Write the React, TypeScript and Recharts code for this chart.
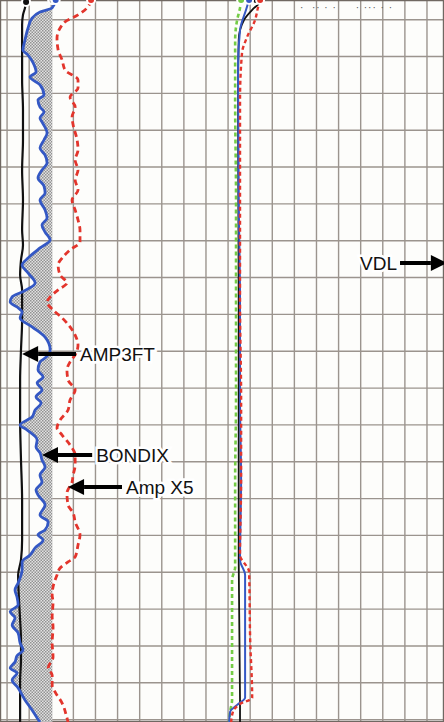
import React from "react";
import {
  ComposedChart,
  Line,
  Area,
  XAxis,
  YAxis,
  CartesianGrid,
  ReferenceLine
} from "recharts";

// grid (in chart divisions)
const gridX = Array.from({ length: 20 }, (_, i) => i);
const majorX = [0, 10, 15];
const gridY = Array.from({ length: 40 }, (_, i) => i);
const majorY = [2, 7, 12, 17, 22, 27, 32, 37];

// Track 1 - AMP3FT (black)
const amp3ftDepth = [0.04, 0.36, 0.74, 1.29, 2.64, 4.27, 5.9, 7.53, 9.16, 10.79, 12.42, 13.23, 14.05, 14.86, 15.67, 17.3, 18.93, 20.56, 22.73, 24.9, 27.08, 29.25, 30.33, 31.15, 32.5, 33.59, 34.67, 35.76, 36.85, 37.93, 39.13];
const amp3ft = [0.86, 0.81, 0.72, 0.68, 0.68, 0.68, 0.72, 0.72, 0.68, 0.72, 0.68, 0.72, 0.63, 0.59, 0.68, 0.68, 0.63, 0.59, 0.59, 0.63, 0.68, 0.68, 0.63, 0.5, 0.54, 0.59, 0.63, 0.63, 0.59, 0.59, 0.59];

// Track 1 - BONDIX (blue)
const bondixDepth = [-0.07, 0.36, 0.58, 0.91, 1.45, 2.1, 2.64, 2.92, 3.35, 3.84, 4.11, 4.54, 5.09, 5.36, 5.74, 6.01, 6.34, 6.55, 7.15, 7.53, 7.97, 8.35, 8.78, 9.16, 9.59, 10.03, 10.41, 10.79, 11.33, 11.77, 12.15, 12.53, 12.96, 13.39, 13.94, 14.32, 14.75, 15.29, 15.78, 16.05, 16.33, 16.6, 16.87, 17.19, 17.68, 18.23, 18.93, 19.37, 19.58, 20.02, 20.4, 20.72, 21.1, 21.48, 21.81, 22.19, 22.57, 23.0, 23.27, 23.82, 24.2, 24.52, 24.9, 25.28, 25.72, 26.1, 26.53, 26.8, 27.35, 27.89, 28.27, 28.7, 28.97, 29.25, 29.68, 30.06, 30.44, 30.87, 31.58, 31.96, 32.34, 32.77, 33.15, 33.48, 33.86, 34.3, 34.84, 35.22, 35.54, 35.87, 36.2, 36.47, 36.85, 37.28, 37.93, 38.48, 38.91, 39.13];
const bondix = [2.2, 2.04, 1.49, 1.13, 0.95, 0.81, 0.72, 0.95, 1.18, 1.31, 1.04, 1.49, 1.67, 1.4, 1.49, 1.67, 1.49, 1.58, 1.81, 1.67, 1.49, 1.72, 1.81, 1.58, 1.4, 1.67, 1.72, 1.49, 1.72, 1.81, 1.58, 1.72, 1.95, 1.49, 0.95, 0.68, 0.95, 1.27, 0.68, 0.23, 0.14, 0.45, 0.68, 0.59, 1.13, 1.72, 1.95, 1.72, 1.49, 1.4, 1.63, 1.36, 1.58, 1.31, 1.54, 1.27, 1.13, 0.59, 0.9, 1.36, 1.31, 1.49, 1.58, 1.72, 1.49, 1.58, 1.31, 1.4, 1.72, 1.49, 1.86, 1.72, 1.4, 1.63, 1.27, 1.04, 0.68, 0.68, 0.5, 0.36, 0.45, 0.5, 0.14, 0.36, 0.23, 0.5, 0.59, 0.72, 0.45, 0.36, 0.14, 0.45, 0.23, 0.5, 0.81, 1.13, 1.36, 1.49];
const SHADE_EDGE = 2.05;

// Track 1 - Amp X5 (red dashed)
const ampX5Depth = [-0.07, 0.36, 0.74, 1.12, 1.45, 1.99, 2.64, 3.19, 3.73, 4.27, 4.71, 5.2, 5.74, 6.28, 6.72, 7.53, 8.07, 8.62, 9.16, 9.7, 10.25, 10.79, 11.33, 11.87, 12.42, 13.07, 13.5, 13.94, 14.32, 14.86, 15.29, 15.67, 16.05, 16.33, 16.76, 17.19, 17.68, 18.12, 18.66, 19.2, 19.58, 20.02, 20.56, 21.1, 21.65, 22.19, 22.73, 23.17, 23.55, 24.09, 24.63, 25.17, 25.72, 26.1, 26.7, 27.35, 27.78, 28.27, 28.97, 29.52, 30.17, 30.44, 30.77, 31.15, 31.8, 32.23, 32.61, 33.43, 33.97, 34.84, 35.6, 36.2, 36.58, 37.12, 37.5, 38.1, 38.91, 39.13];
const ampX5 = [3.8, 3.62, 3.21, 2.62, 2.4, 2.26, 2.31, 2.49, 2.62, 3.21, 3.21, 2.85, 3.08, 2.94, 2.99, 3.17, 3.21, 3.08, 3.21, 3.08, 3.21, 2.94, 3.08, 3.21, 3.3, 3.3, 2.85, 2.49, 2.31, 2.4, 2.71, 2.31, 1.95, 1.81, 2.08, 2.49, 2.85, 3.08, 3.21, 3.08, 2.85, 2.71, 2.76, 3.08, 2.85, 2.76, 2.4, 2.26, 2.49, 2.85, 3.08, 3.08, 2.99, 2.94, 2.71, 2.76, 2.99, 3.08, 3.3, 3.21, 3.08, 2.76, 2.4, 2.26, 2.08, 2.04, 2.08, 2.04, 2.08, 2.04, 2.08, 1.86, 2.04, 2.04, 2.17, 2.49, 2.71, 2.76];

// Track 2 curves
const greenDepth = [-0.07, 0.36, 1.02, 2.1, 5.36, 10.79, 16.22, 21.65, 25.99, 30.71, 31.42, 37.93, 38.58, 39.13];
const green = [10.59, 10.54, 10.41, 10.32, 10.32, 10.36, 10.36, 10.36, 10.32, 10.32, 10.18, 10.18, 10.09, 10.05];
const blue2Depth = [-0.07, 0.47, 1.56, 3.57, 10.79, 16.22, 21.65, 25.99, 30.33, 31.15, 35.22, 37.82, 38.2, 38.58, 39.13];
const blue2 = [10.95, 10.81, 10.54, 10.45, 10.48, 10.54, 10.54, 10.59, 10.54, 10.77, 10.77, 10.77, 10.41, 10.09, 10.05];
const red2Depth = [-0.07, 0.31, 1.02, 1.94, 2.81, 5.36, 10.79, 16.22, 21.65, 25.99, 30.06, 30.98, 34.67, 37.82, 38.15, 38.58, 39.13];
const red2 = [11.45, 11.36, 11.22, 10.86, 10.63, 10.54, 10.54, 10.54, 10.59, 10.59, 10.54, 10.95, 11.0, 11.09, 10.54, 10.22, 10.14];
const black2Depth = [-0.07, 0.09, 0.36, 1.02, 2.1, 5.36, 16.22, 27.08, 30.33, 37.93, 39.13];
const black2 = [11.27, 11.4, 11.18, 10.72, 10.48, 10.45, 10.48, 10.48, 10.48, 10.54, 10.54];

// annotations: label, depth, tail value, tip value
const arrows = [
  { label: "AMP3FT", depth: 19.15, tail: 3.12, tip: 0.68 },
  { label: "BONDIX", depth: 24.63, tail: 3.85, tip: 1.58 },
  { label: "Amp X5", depth: 26.37, tail: 5.2, tip: 2.76 },
  { label: "VDL", depth: 14.21, tail: 17.78, tip: 19.9 }
];

const zip = (d: number[], v: number[]) => d.map((depth, i) => ({ depth, value: v[i] }));

const FONT = "'Liberation Sans', Arial, sans-serif";

const arrowShape = (label: string) => (props: any) => {
  const { x1, y1, x2 } = props;
  const dir = x2 < x1 ? -1 : 1;
  const head = 16;
  const baseX = x2 - dir * head;
  return (
    <g>
      <line x1={x1} y1={y1} x2={baseX} y2={y1} stroke="#000" strokeWidth={4} />
      <polygon points={`${x2},${y1} ${baseX},${y1 - 8} ${baseX},${y1 + 8}`} fill="#000" />
      <text
        x={dir < 0 ? x1 + 4 : x1 - 3}
        y={y1 + 7}
        textAnchor={dir < 0 ? "start" : "end"}
        fontFamily={FONT}
        fontSize={19}
        fill="#111"
        stroke="#fff"
        strokeWidth={5}
        paintOrder="stroke"
      >
        {label}
      </text>
    </g>
  );
};

const App: React.FC = () => {
  return (
    <div style={{ position: "absolute", left: 0, top: 0, width: 444, height: 722, background: "#fdfdfb" }}>
      <ComposedChart
        width={444}
        height={722}
        layout="vertical"
        margin={{ top: 0, right: 0, bottom: 0, left: 0 }}
      >
        <defs>
          <pattern id="chk" width="3" height="3" patternUnits="userSpaceOnUse">
            <rect width="3" height="3" fill="#e2e2e2" />
            <rect width="1.5" height="1.5" fill="#929292" />
            <rect x="1.5" y="1.5" width="1.5" height="1.5" fill="#929292" />
          </pattern>
        </defs>
        <XAxis xAxisId={0} type="number" domain={[-0.32, 19.77]} ticks={gridX} hide allowDataOverflow />
        <XAxis xAxisId="maj" type="number" domain={[-0.32, 19.77]} ticks={majorX} hide />
        <YAxis yAxisId={0} type="number" dataKey="depth" domain={[-0.07, 39.13]} ticks={gridY} hide allowDataOverflow />
        <YAxis yAxisId="maj" type="number" dataKey="depth" domain={[-0.07, 39.13]} ticks={majorY} hide />
        <CartesianGrid stroke="#9b948e" strokeWidth={1.4} />
        <CartesianGrid xAxisId="maj" yAxisId="maj" stroke="#706862" strokeWidth={2.4} />

        <Area
          data={bondixDepth.map((depth, i) => ({ depth, range: [Math.min(bondix[i], SHADE_EDGE), SHADE_EDGE] }))}
          dataKey="range"
          type="monotone"
          fill="url(#chk)"
          fillOpacity={1}
          stroke="none"
          isAnimationActive={false}
        />
        <Line data={zip(amp3ftDepth, amp3ft)} dataKey="value" type="monotone" stroke="#111" strokeWidth={2.2} dot={false} isAnimationActive={false} />
        <Line data={zip(ampX5Depth, ampX5)} dataKey="value" type="monotone" stroke="#e3352c" strokeWidth={2.8} strokeDasharray="6 4" dot={false} isAnimationActive={false} />
        <Line data={zip(bondixDepth, bondix)} dataKey="value" type="monotone" stroke="#3458c4" strokeWidth={2.8} dot={false} isAnimationActive={false} />

        <Line data={zip(black2Depth, black2)} dataKey="value" type="monotone" stroke="#111" strokeWidth={1.8} dot={false} isAnimationActive={false} />
        <Line data={zip(greenDepth, green)} dataKey="value" type="monotone" stroke="#74cc45" strokeWidth={2.6} strokeDasharray="4 3" dot={false} isAnimationActive={false} />
        <Line data={zip(blue2Depth, blue2)} dataKey="value" type="monotone" stroke="#3458c4" strokeWidth={2} dot={false} isAnimationActive={false} />
        <Line data={zip(red2Depth, red2)} dataKey="value" type="monotone" stroke="#e3352c" strokeWidth={2.4} strokeDasharray="4 3" dot={false} isAnimationActive={false} />

        {arrows.map((a) => (
          <ReferenceLine
            key={a.label}
            segment={[{ x: a.tail, y: a.depth }, { x: a.tip, y: a.depth }]}
            ifOverflow="visible"
            shape={arrowShape(a.label)}
          />
        ))}
      </ComposedChart>
      <div
        style={{
          position: "absolute",
          left: 300,
          top: 2,
          fontFamily: FONT,
          fontSize: 10,
          color: "#555",
          letterSpacing: 1,
          lineHeight: "12px",
          whiteSpace: "pre"
        }}
      >
        {"·  ·· · ·     · ··· · ·"}
      </div>
    </div>
  );
};

export default App;
